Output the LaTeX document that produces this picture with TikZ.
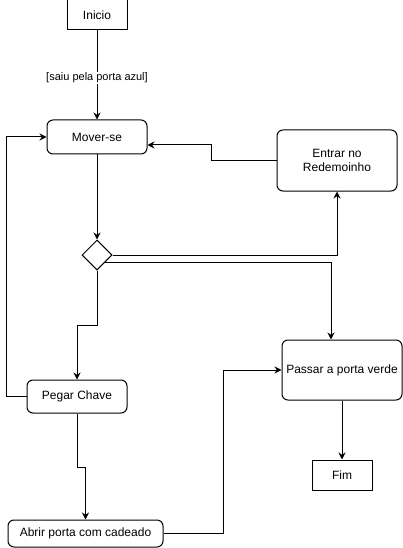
\documentclass[tikz,border=0pt]{standalone}
\usepackage{fontspec}
\setmainfont{Liberation Sans}
\usetikzlibrary{shapes.geometric,arrows.meta}
\begin{document}
\begin{tikzpicture}[x=1pt,y=-1pt,
  base/.style={draw,line width=1pt,inner sep=1pt,font=\fontsize{12}{14}\selectfont,align=center},
  sq/.style={base,rectangle},
  rnd/.style={base,rectangle,rounded corners=6pt},
  dec/.style={draw,line width=1pt,diamond,minimum width=30pt,minimum height=30pt,inner sep=0pt,shape aspect=1},
  arr/.style={line width=1pt,-{Stealth[length=7pt,width=7pt]}},
  lab/.style={fill=white,inner sep=1pt,font=\fontsize{11}{13}\selectfont}]
\useasboundingbox (0,0) rectangle (403,548);
\node[sq,minimum width=60pt,minimum height=30pt] (ini) at (97,15) {Inicio};
\node[rnd,minimum width=100pt,minimum height=34pt] (mov) at (97,137) {Mover-se};
\node[rnd,minimum width=120pt,minimum height=61pt] (ent) at (337,160.5) {Entrar no\\Redemoinho};
\node[dec] (dia) at (97,255) {};
\node[rnd,minimum width=120pt,minimum height=60pt] (pas) at (342,370) {Passar a porta verde};
\node[sq,minimum width=60pt,minimum height=30pt] (fim) at (342,475) {Fim};
\node[rnd,minimum width=100pt,minimum height=33pt] (peg) at (77,396.5) {Pegar Chave};
\node[rnd,minimum width=155pt,minimum height=27pt] (abr) at (85.5,533.5) {Abrir porta com cadeado};

\draw[arr] (ini) -- node[lab,pos=0.53] {[saiu pela porta azul]} (mov);
\draw[arr] (ent.west) -- ++(-65,0) |- ([yshift=-8pt]mov.east);
\draw[arr] (mov) -- (dia);
\draw[arr] (dia.east) -| (ent.south);
\draw[arr] (dia.-45) -| ([xshift=-11pt]pas.north);
\draw[arr] (dia.south) -- ++(0,55) -| (peg.north);
\draw[arr] (peg.west) -- ++(-20,0) |- (mov.west);
\draw[arr] (peg.south) -- ++(0,54) -| (abr.north);
\draw[arr] (abr.east) -- ++(60,0) |- (pas.west);
\draw[arr] (pas) -- (fim);
\end{tikzpicture}
\end{document}
